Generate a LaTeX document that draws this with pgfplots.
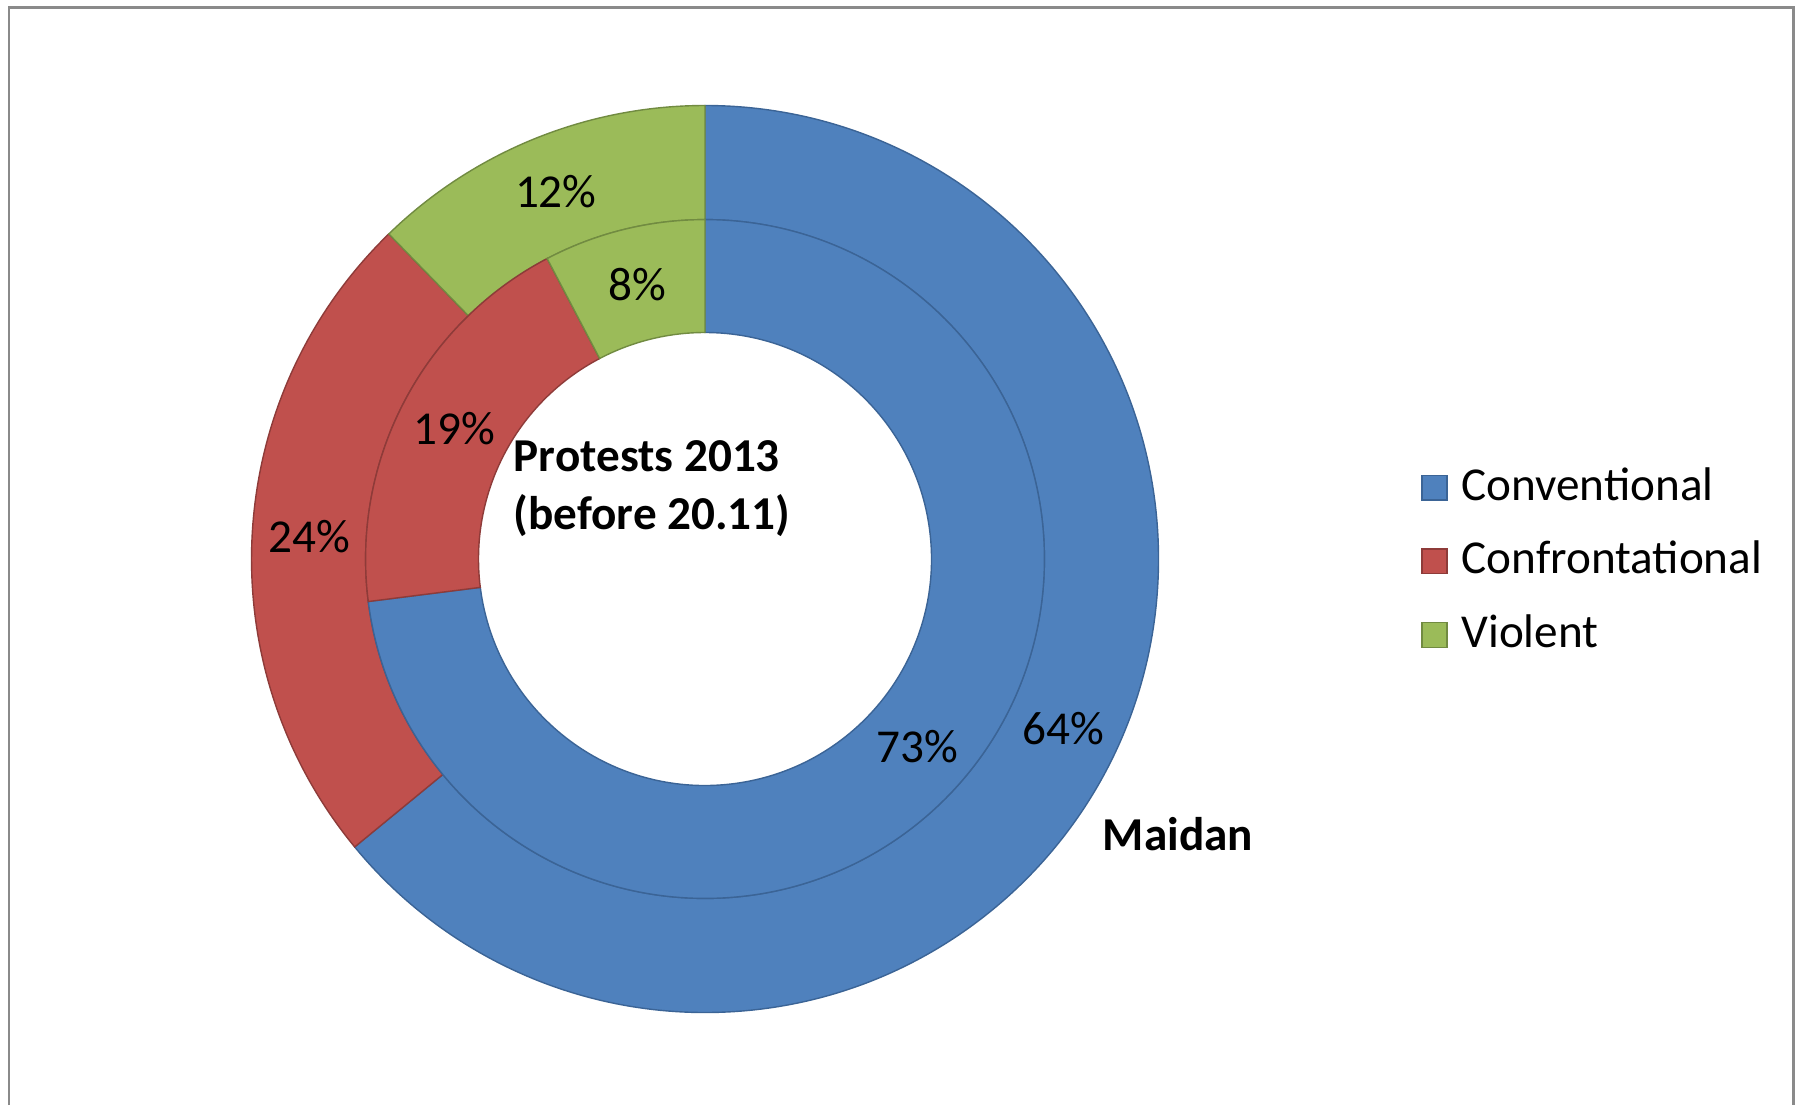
\documentclass[border=0pt]{standalone}
\usepackage{pgfplots}
\pgfplotsset{compat=1.18}
\usepackage{fontspec}
\setmainfont{Carlito}
\definecolor{cblue}{HTML}{4F81BD}
\definecolor{cred}{HTML}{C0504D}
\definecolor{cgreen}{HTML}{9BBB59}
\definecolor{dblue}{HTML}{3B6496}
\definecolor{dred}{HTML}{8E3B39}
\definecolor{dgreen}{HTML}{718B41}
\definecolor{framegray}{HTML}{8A8A8A}
% data (percent)
\def\mA{64.05}\def\mB{23.67}\def\mC{12.28}   % Maidan (outer ring)
\def\pA{73.0}\def\pB{19.3}\def\pC{7.7}       % Protests 2013 before 20.11 (inner ring)
\newcommand{\sector}[5]{%
  \filldraw[#5] ([shift={(#1:#3)}]C) arc[start angle=#1, end angle=#2, radius=#3]
    -- ([shift={(#2:#4)}]C) arc[start angle=#2, end angle=#1, radius=#4] -- cycle;}
\newcommand{\seclabel}[3]{%
  \node[font=\fontsize{11.8}{14}\selectfont, inner sep=0pt] at ([shift={(#1:#2)}]C) {\pgfmathprintnumber[fixed,precision=0,assume math mode=true]{#3}\%};}
\begin{document}
\begin{tikzpicture}
\pgfmathsetmacro\mab{90-3.6*\mA}\pgfmathsetmacro\mbc{\mab-3.6*\mB}\pgfmathsetmacro\mend{\mbc-3.6*\mC}
\pgfmathsetmacro\pab{90-3.6*\pA}\pgfmathsetmacro\pbc{\pab-3.6*\pB}\pgfmathsetmacro\pend{\pbc-3.6*\pC}
\pgfmathsetmacro\mmA{(90+\mab)/2}\pgfmathsetmacro\mmB{(\mab+\mbc)/2}\pgfmathsetmacro\mmC{(\mbc+\mend)/2}
\pgfmathsetmacro\ppA{(90+\pab)/2}\pgfmathsetmacro\ppB{(\pab+\pbc)/2}\pgfmathsetmacro\ppC{(\pbc+\pend)/2}
\begin{axis}[
  scale only axis, width=449.5pt, height=276.25pt,
  xmin=0, xmax=1798, ymin=0, ymax=1105,
  hide axis, clip=false,
  legend style={draw=none, fill=none, at={(0.7905,0.492)}, anchor=west,
    inner sep=0pt, outer sep=0pt, row sep=7.4pt, column sep=3.5pt,
    font=\fontsize{11.8}{14}\selectfont,
    nodes={inner sep=0pt, text height=8.6pt, text depth=2.4pt}},
  legend cell align=left,
]
\path (axis cs:0,0) rectangle (axis cs:1798,1105);
\draw[framegray, line width=0.6pt] (axis cs:9,0) -- (axis cs:9,1097.5) -- (axis cs:1793.5,1097.5) -- (axis cs:1793.5,0);
\coordinate (C) at (axis cs:705,546);
% outer ring: Maidan
\sector{90}{\mab}{113.375pt}{84.85pt}{fill=cblue, draw=dblue, line width=0.35pt}
\sector{\mab}{\mbc}{113.375pt}{84.85pt}{fill=cred, draw=dred, line width=0.35pt}
\sector{\mbc}{\mend}{113.375pt}{84.85pt}{fill=cgreen, draw=dgreen, line width=0.35pt}
% inner ring: Protests 2013
\sector{90}{\pab}{84.85pt}{56.625pt}{fill=cblue, draw=dblue, line width=0.35pt}
\sector{\pab}{\pbc}{84.85pt}{56.625pt}{fill=cred, draw=dred, line width=0.35pt}
\sector{\pbc}{\pend}{84.85pt}{56.625pt}{fill=cgreen, draw=dgreen, line width=0.35pt}
% labels
\seclabel{\mmA}{99.1pt}{\mA}
\seclabel{\mmB}{99.1pt}{\mB}
\seclabel{\mmC}{99.1pt}{\mC}
\seclabel{\ppA}{70.74pt}{\pA}
\seclabel{\ppB}{70.74pt}{\pB}
\seclabel{\ppC}{70.74pt}{\pC}
\node[anchor=west, align=left, inner sep=0pt, font=\bfseries\fontsize{11.8}{14.5}\selectfont] at (axis cs:513,616.5) {Protests 2013\\(before 20.11)};
\node[inner sep=0pt, font=\bfseries\fontsize{11.8}{14}\selectfont] at (axis cs:1178,271) {Maidan};
\addlegendimage{legend image code/.code={\filldraw[fill=cblue, draw=dblue, line width=0.35pt] (0pt,-3.1pt) rectangle (6.2pt,3.1pt);}}
\addlegendentry{Conventional}
\addlegendimage{legend image code/.code={\filldraw[fill=cred, draw=dred, line width=0.35pt] (0pt,-3.1pt) rectangle (6.2pt,3.1pt);}}
\addlegendentry{Confrontational}
\addlegendimage{legend image code/.code={\filldraw[fill=cgreen, draw=dgreen, line width=0.35pt] (0pt,-3.1pt) rectangle (6.2pt,3.1pt);}}
\addlegendentry{Violent}
\end{axis}
\end{tikzpicture}
\end{document}
